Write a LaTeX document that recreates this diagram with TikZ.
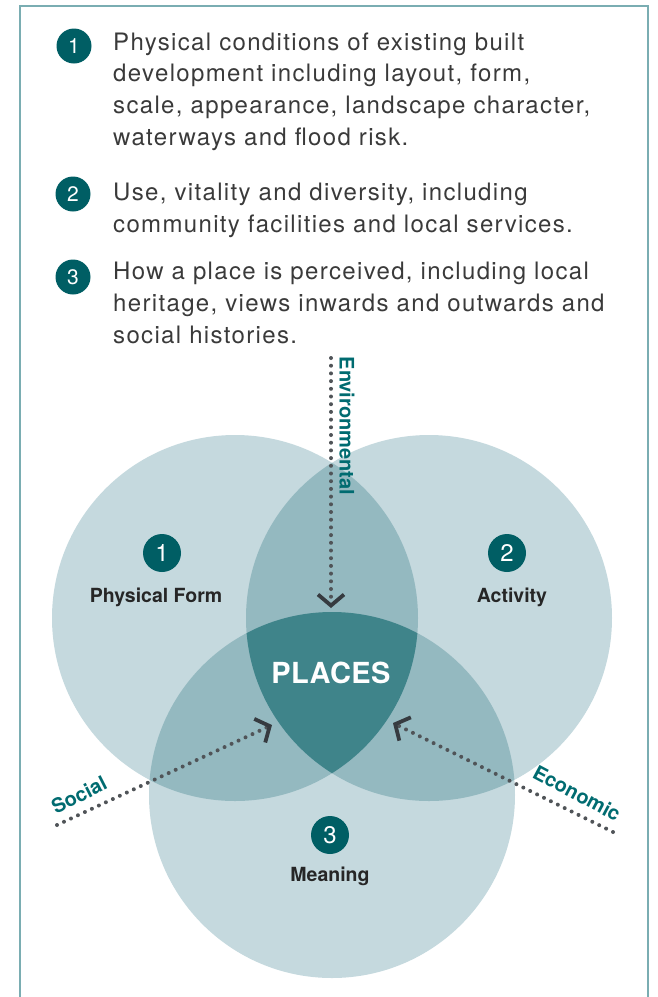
\documentclass[tikz,border=0pt]{standalone}
\usepackage{fontspec}
\setmainfont{TeX Gyre Heros}
\usetikzlibrary{arrows.meta, positioning}

\definecolor{framegrey}{HTML}{7AADB2}
\definecolor{badgeteal}{HTML}{005E64}
\definecolor{driverteal}{HTML}{006B70}
\definecolor{vennlight}{HTML}{C5D9DE}
\definecolor{vennmid}{HTML}{94B9C0}
\definecolor{venndark}{HTML}{3F848A}
\definecolor{bodygrey}{HTML}{3A3A3A}
\definecolor{labelgrey}{HTML}{262626}
\definecolor{dotgrey}{HTML}{505458}
\definecolor{tipgrey}{HTML}{363B40}

\newcommand{\bodyfont}{\fontsize{24}{31.6}\selectfont\addfontfeature{LetterSpace=5.6}}

\tikzset{
  badge/.style={circle, fill=badgeteal, text=white, inner sep=0pt,
    minimum size=35pt, font=\fontsize{21}{21}\selectfont},
  bigbadge/.style={badge, minimum size=38pt, font=\fontsize{24}{24}\selectfont},
  item/.style={anchor=base west, align=left, inner sep=0pt, text=bodygrey, font=\bodyfont},
  setname/.style={anchor=base, inner sep=0pt, text=labelgrey,
    font=\bfseries\fontsize{19.5}{19.5}\selectfont},
  driver/.style={inner sep=0pt, text=driverteal, font=\bfseries\fontsize{20}{20}\selectfont},
  flow/.style={draw=dotgrey, line width=4pt, line cap=round, dash pattern=on 0pt off 7.7pt,
    -{Straight Barb[length=11pt, width=26pt, line width=3.8pt, color=tipgrey]}},
}

\begin{document}
\begin{tikzpicture}[x=1pt, y=-1pt]
\useasboundingbox (0,0) rectangle (657,997);

% frame, open at the bottom
\draw[framegrey, line width=2pt] (20,1010) -- (20,6) -- (648,6) -- (648,1010);

% list of the three aspects (nodes sit on the baseline of their last line)
\node[badge] (b1) at (74,46) {1};
\node[item] (t1) at (113,145) {Physical conditions of existing built\\
  development including layout, form,\\
  scale, appearance, landscape character,\\
  waterways and flood risk.};
\node[badge] (b2) at (73,194) {2};
\node[item] (t2) at (113,232) {Use, vitality and diversity, including\\
  community facilities and local services.};
\node[badge] (b3) at (73,277) {3};
\node[item] (t3) at (113,343) {How a place is perceived, including local\\
  heritage, views inwards and outwards and\\
  social histories.};

% the three circles
\coordinate (form) at (235,618);
\coordinate (activity) at (429,618);
\coordinate (meaning) at (332,795);
\fill[vennlight] (form) circle[radius=183pt] (activity) circle[radius=183pt]
  (meaning) circle[radius=183pt];
\begin{scope}
  \clip (form) circle[radius=183pt];
  \fill[vennmid] (activity) circle[radius=183pt] (meaning) circle[radius=183pt];
\end{scope}
\begin{scope}
  \clip (activity) circle[radius=183pt];
  \fill[vennmid] (meaning) circle[radius=183pt];
\end{scope}
\begin{scope}
  \clip (form) circle[radius=183pt];
  \clip (activity) circle[radius=183pt];
  \fill[venndark] (meaning) circle[radius=183pt];
\end{scope}

\node[bigbadge] (n1) at (162,553) {1};
\node[setname] (l1) at (156,602) {Physical Form};
\node[bigbadge] (n2) at (507,553) {2};
\node[setname] (l2) at (512,602) {Activity};
\node[bigbadge] (n3) at (330,835) {3};
\node[setname] (l3) at (330,881) {Meaning};

\node[anchor=base, inner sep=0pt, text=white, font=\bfseries\fontsize{29}{29}\selectfont\addfontfeature{LetterSpace=1.5}]
  (places) at (331,683) {PLACES};

% the three drivers pointing in
\coordinate (envstart) at (331,358);
\coordinate (envtip) at (331,608);
\coordinate (socstart) at (57,825);
\coordinate (soctip) at (272,725);
\coordinate (ecostart) at (613,832);
\coordinate (ecotip) at (393,723);
\draw[flow] (envstart) -- (envtip);
\draw[flow] (socstart) -- (soctip);
\draw[flow] (ecostart) -- (ecotip);

\node[driver, rotate=-90] (env) at (347,426) {Environmental};
\node[driver, rotate=27] (soc) at (79,795) {Social};
\node[driver, rotate=-28] (eco) at (577,793) {Economic};
\end{tikzpicture}
\end{document}
